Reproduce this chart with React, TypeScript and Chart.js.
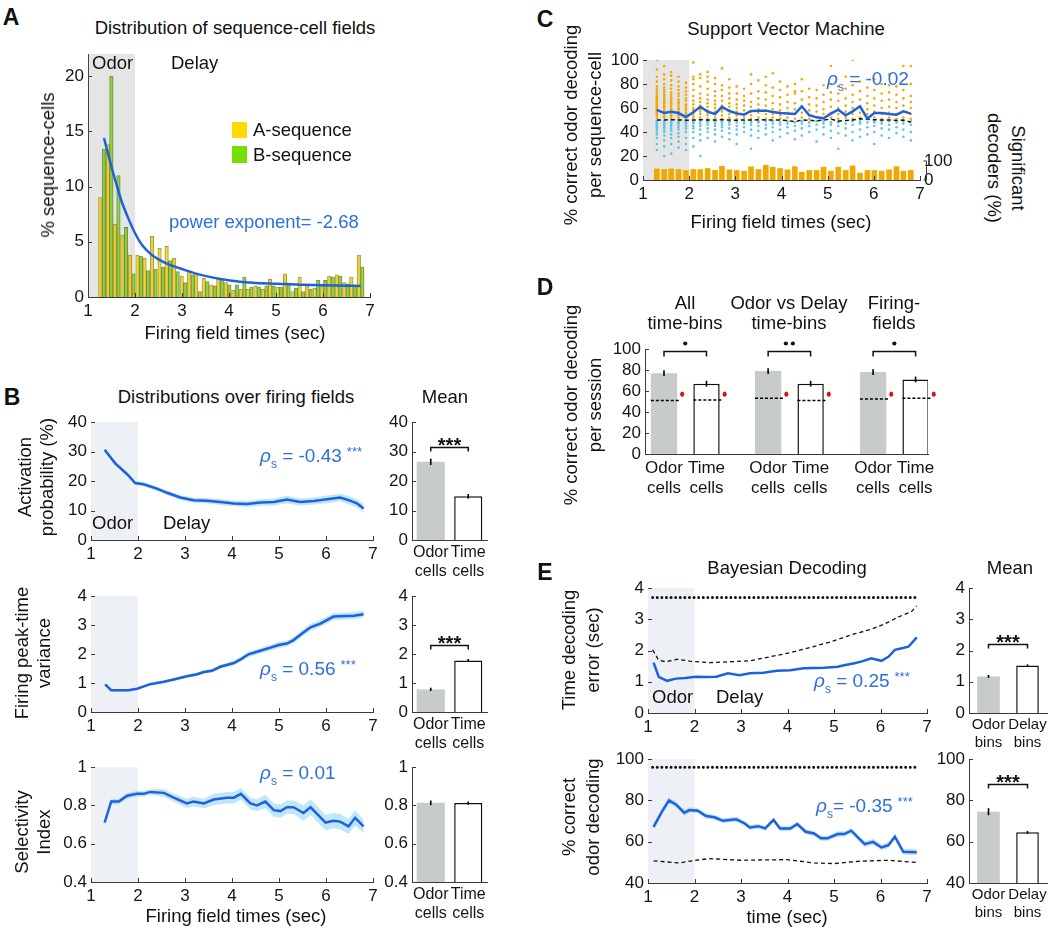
import React, { useEffect, useRef } from 'react';
import { Chart, registerables } from 'chart.js';

Chart.register(...registerables);

const FONT = "'Liberation Sans', Arial, Helvetica, sans-serif";
Chart.defaults.font.family = FONT;
Chart.defaults.font.size = 17;
Chart.defaults.color = '#151515';

const BLUE = '#1d62dc';
const RHO = '#2d6fdd';
const BAND = 'rgba(130,205,245,0.5)';
const SHADE_A = '#e5e5e5';
const SHADE_B = '#edf1f5';
const GREYBAR = '#c8cbcb';
const ORANGE = '#f0a900';
const CYAN = '#5ec5e8';
const AXIS = '#3a3a3a';

// ================= DATA =================
const xTicks = [1, 2, 3, 4, 5, 6, 7];

// ---- Panel A: histogram of firing-field times ----
const binTimes = [1.30, 1.46, 1.61, 1.77, 1.93, 2.09, 2.24, 2.40, 2.56, 2.71, 2.87, 3.03, 3.19, 3.34, 3.50, 3.66, 3.81, 3.97, 4.13, 4.29, 4.44, 4.60, 4.76, 4.91, 5.07, 5.23, 5.39, 5.54, 5.70, 5.86, 6.01, 6.17, 6.33, 6.49, 6.64, 6.80];
const histA = [9.0, 13.8, 6.6, 5.6, 3.8, 3.8, 3.5, 5.5, 4.4, 4.6, 3.5, 1.9, 2.3, 2.1, 1.7, 1.1, 1.6, 1.3, 0.6, 0.7, 0.7, 1.0, 0.7, 1.6, 0.9, 2.1, 0.5, 1.8, 1.0, 0.8, 1.0, 1.9, 2.0, 1.3, 1.8, 3.8];
const histB = [13.4, 20.0, 11.0, 6.3, 2.1, 3.7, 2.4, 2.5, 2.7, 3.3, 2.3, 1.3, 2.0, 0.5, 1.4, 1.0, 1.5, 1.1, 1.1, 1.8, 0.9, 0.9, 1.0, 1.0, 0.9, 1.1, 0.8, 0.5, 0.7, 1.5, 1.5, 1.8, 1.9, 1.2, 1.1, 2.7];
const fitT = [1.34, 1.45, 1.55, 1.62, 1.72, 1.84, 2.01, 2.15, 2.33, 2.50, 2.69, 3.02, 3.40, 4.02, 4.50, 5.03, 5.60, 6.23, 6.80];
const fitV = [14.4, 12.6, 11.0, 10.0, 8.6, 7.3, 5.7, 4.7, 3.9, 3.4, 3.0, 2.5, 2.0, 1.5, 1.3, 1.2, 1.1, 1.05, 1.0];
const aYTicks = [0, 5, 10, 15, 20];

// ---- Panel B ----
const bActT = [1.29, 1.52, 1.77, 1.94, 2.12, 2.40, 2.62, 2.90, 3.18, 3.47, 3.75, 4.04, 4.32, 4.60, 4.89, 5.17, 5.45, 5.74, 6.02, 6.30, 6.48, 6.66, 6.80];
const bAct = [30.6, 25.9, 22.3, 19.3, 18.9, 17.4, 16.0, 14.4, 13.5, 13.3, 12.9, 12.4, 12.2, 12.7, 12.9, 13.7, 12.9, 13.2, 13.8, 14.4, 13.5, 12.4, 10.7];
const bActSem = [0.6, 0.6, 0.6, 0.6, 0.7, 0.7, 0.8, 0.8, 0.9, 0.9, 1.0, 1.0, 1.0, 1.1, 1.2, 1.3, 1.2, 1.2, 1.3, 1.3, 1.4, 1.4, 1.5];
const bVarT = [1.30, 1.43, 1.62, 1.80, 1.98, 2.26, 2.55, 2.76, 3.04, 3.26, 3.40, 3.57, 3.75, 4.04, 4.21, 4.35, 4.60, 4.82, 4.99, 5.17, 5.31, 5.49, 5.67, 5.88, 6.16, 6.45, 6.59, 6.80];
const bVar = [0.95, 0.75, 0.75, 0.75, 0.80, 0.96, 1.04, 1.12, 1.23, 1.30, 1.38, 1.42, 1.56, 1.69, 1.84, 1.99, 2.11, 2.22, 2.31, 2.36, 2.48, 2.71, 2.92, 3.05, 3.29, 3.31, 3.32, 3.37];
const bVarSem = [0.04, 0.04, 0.04, 0.04, 0.04, 0.05, 0.05, 0.05, 0.06, 0.06, 0.06, 0.07, 0.07, 0.08, 0.08, 0.09, 0.09, 0.1, 0.1, 0.1, 0.11, 0.11, 0.12, 0.12, 0.12, 0.12, 0.12, 0.12];
const bSelT = [1.29, 1.43, 1.59, 1.77, 1.98, 2.12, 2.26, 2.55, 2.76, 3.04, 3.18, 3.40, 3.61, 3.89, 4.04, 4.19, 4.39, 4.53, 4.71, 4.89, 5.03, 5.17, 5.31, 5.52, 5.67, 5.81, 5.99, 6.16, 6.30, 6.48, 6.62, 6.80];
const bSel = [0.71, 0.82, 0.82, 0.85, 0.86, 0.86, 0.87, 0.865, 0.84, 0.81, 0.82, 0.81, 0.83, 0.84, 0.84, 0.86, 0.81, 0.80, 0.82, 0.775, 0.77, 0.79, 0.79, 0.76, 0.79, 0.755, 0.71, 0.72, 0.715, 0.69, 0.735, 0.69];
const bSelSem = [0.015, 0.015, 0.015, 0.015, 0.015, 0.015, 0.015, 0.02, 0.02, 0.025, 0.025, 0.025, 0.03, 0.03, 0.03, 0.03, 0.03, 0.03, 0.035, 0.035, 0.035, 0.035, 0.035, 0.04, 0.04, 0.04, 0.04, 0.04, 0.04, 0.04, 0.04, 0.035];
const bCellLabels = [['Odor', 'cells'], ['Time', 'cells']];
const bMeanAct = [26.5, 14.8];
const bMeanActErr = [0.8, 0.5];
const bMeanVar = [0.78, 1.78];
const bMeanVarErr = [0.03, 0.02];
const bMeanSel = [0.813, 0.812];
const bMeanSelErr = [0.008, 0.004];
const bActTicks = [0, 10, 20, 30, 40];
const bVarTicks = [0, 1, 2, 3, 4];
const bSelTicks = [0.4, 0.6, 0.8, 1];
const bSigY = [31.5, 2.3];

// ---- Panel C: SVM decoding per sequence cell ----
const cMean = [58.5, 55.8, 56.9, 55.8, 52.5, 56.5, 61.0, 57.0, 55.0, 61.0, 57.5, 55.5, 54.4, 57.5, 57.8, 57.8, 56.7, 55.8, 55.5, 55.0, 61.4, 54.0, 52.2, 51.5, 55.3, 58.6, 53.9, 57.2, 61.4, 51.1, 55.8, 55.8, 55.0, 54.4, 57.2, 55.3];
const cChance = [50, 50, 50.3, 50, 49.8, 50, 50.2, 50, 50, 50.3, 50, 49.8, 50, 50, 50.2, 50, 50, 50, 49.6, 48.5, 50, 49.8, 49.2, 50, 50.8, 49, 49.6, 50, 51, 50.6, 50.2, 50, 50, 49.6, 50, 48.2];
const cSig = [60, 57, 60, 57, 52, 57, 57, 62, 52, 74, 55, 52, 48, 71, 57, 79, 69, 62, 55, 72, 43, 52, 52, 69, 48, 69, 52, 76, 38, 52, 52, 48, 55, 72, 48, 52];
const cStars = [1.30, 1.46, 1.61, 1.77, 2.09, 2.24, 2.40, 2.56, 2.71, 2.87, 3.50, 3.66, 3.81, 3.97, 4.29, 4.44, 5.07, 5.39, 5.70, 6.64, 6.80];
const cStarLevel = 106;
const cOrange = [
  [52, 54, 55, 56, 57, 58, 59, 60, 61, 62, 63, 64, 65, 66, 67, 68, 69, 70, 72, 74, 76, 78, 82, 86, 92, 100],
  [52, 53, 55, 57, 58, 60, 61, 62, 64, 65, 66, 68, 70, 71, 73, 75, 77, 80, 84, 88, 95],
  [51, 53, 54, 56, 58, 59, 61, 63, 64, 66, 67, 69, 71, 73, 76, 79, 83, 87, 90],
  [51, 52, 54, 55, 57, 59, 60, 62, 64, 65, 67, 70, 72, 75, 78, 82, 86],
  [51, 53, 55, 56, 58, 60, 62, 63, 66, 68, 71, 74, 77, 81],
  [52, 54, 56, 58, 60, 63, 66, 70, 75, 80, 84, 86, 98],
  [52, 55, 57, 59, 62, 65, 68, 72, 78, 85, 88],
  [51, 54, 56, 58, 61, 64, 67, 71, 76, 82, 86, 90],
  [52, 55, 57, 60, 63, 66, 70, 74, 80, 85],
  [51, 54, 57, 59, 62, 66, 70, 75, 79, 93],
  [52, 55, 58, 61, 64, 68, 72, 77, 84],
  [51, 54, 57, 60, 63, 67, 72, 78],
  [52, 55, 58, 62, 66, 70, 76],
  [51, 54, 57, 61, 65, 72, 80, 88],
  [52, 56, 59, 63, 68, 74, 83],
  [51, 55, 58, 62, 67, 73, 79, 86],
  [52, 55, 59, 64, 70, 77, 89],
  [51, 54, 58, 63, 69, 75, 82],
  [52, 56, 60, 65, 71, 78],
  [51, 55, 59, 64, 72, 74, 80],
  [52, 56, 61, 67, 74, 84],
  [51, 54, 58, 63, 69, 76],
  [52, 57, 62, 68, 75],
  [51, 55, 59, 65, 71, 79],
  [52, 56, 61, 67, 73, 80, 95],
  [51, 55, 60, 66, 72, 78],
  [52, 57, 62, 68, 76, 86],
  [51, 55, 60, 65, 71, 79, 100],
  [52, 56, 61, 67, 74, 82],
  [51, 55, 59, 64, 70, 77],
  [52, 57, 62, 68, 75, 84],
  [51, 55, 60, 66, 72, 80],
  [52, 56, 61, 67, 73, 79, 88],
  [51, 55, 60, 65, 71, 78],
  [52, 57, 62, 68, 75, 95],
  [51, 55, 60, 65, 70, 80, 95],
];
const cCyan = [
  [25, 30, 35, 38, 40, 42, 43, 44, 45, 46, 47, 48, 49],
  [20, 28, 33, 37, 40, 42, 44, 45, 46, 47, 48, 49],
  [22, 30, 35, 38, 41, 43, 45, 46, 47, 48, 49],
  [27, 32, 36, 39, 42, 44, 46, 47, 48, 49],
  [25, 30, 35, 40, 43, 45, 47, 48, 49],
  [28, 35, 40, 43, 45, 47, 48, 49],
  [20, 33, 38, 42, 45, 47, 49],
  [35, 40, 43, 46, 48, 49],
  [32, 38, 42, 45, 47, 49],
  [36, 41, 44, 46, 48, 49],
  [34, 39, 43, 46, 48, 49],
  [30, 38, 42, 45, 48, 49],
  [40, 44, 47, 49],
  [26, 37, 42, 46, 48, 49],
  [35, 41, 45, 48, 49],
  [38, 43, 46, 49],
  [33, 40, 44, 47, 49],
  [36, 42, 46, 48],
  [39, 44, 47, 49],
  [34, 41, 45, 48],
  [37, 43, 47, 49],
  [40, 45, 48],
  [32, 42, 46, 49],
  [38, 44, 47, 49],
  [35, 41, 46, 48],
  [26, 39, 45, 48, 49],
  [37, 43, 47],
  [33, 40, 46, 49],
  [36, 42, 47, 49],
  [38, 44, 48],
  [30, 40, 45, 48, 49],
  [37, 43, 47, 49],
  [35, 42, 46, 49],
  [39, 44, 48],
  [36, 42, 47, 49],
  [33, 40, 46, 49],
];
const cYTicks = [0, 20, 40, 60, 80, 100];
const cSigTicks = [0, 100];

// ---- Panel D: per-session decoding ----
const dVals = [77, 67, 79, 67, 78, 71];
const dErr = [2, 2, 2, 2, 2, 2];
const dChance = [51, 51.5, 53, 51, 52.5, 53];
const dShuffle = [57, 57, 57, 57, 57, 57];
const dLabels = [['Odor', 'cells'], ['Time', 'cells'], ['Odor', 'cells'], ['Time', 'cells'], ['Odor', 'cells'], ['Time', 'cells']];
const dSigN = [1, 2, 1];
const dSigY = 98.4;
const dYTicks = [0, 20, 40, 60, 80, 100];

// ---- Panel E: Bayesian decoding ----
const eErrT = [1.12, 1.23, 1.41, 1.60, 1.80, 2.03, 2.25, 2.47, 2.72, 2.97, 3.19, 3.48, 3.77, 4.06, 4.35, 4.57, 4.79, 5.08, 5.22, 5.44, 5.62, 5.80, 6.02, 6.17, 6.31, 6.46, 6.60, 6.78];
const eErr = [1.61, 1.16, 1.03, 1.10, 1.12, 1.16, 1.15, 1.16, 1.27, 1.21, 1.27, 1.29, 1.35, 1.37, 1.43, 1.44, 1.45, 1.48, 1.53, 1.59, 1.66, 1.75, 1.67, 1.80, 2.02, 2.07, 2.12, 2.42];
const eErrChT = [1.10, 1.23, 1.38, 1.63, 1.89, 2.32, 2.76, 3.19, 3.63, 4.06, 4.50, 4.93, 5.37, 5.80, 6.09, 6.38, 6.67, 6.78];
const eErrCh = [2.02, 1.69, 1.64, 1.72, 1.66, 1.61, 1.64, 1.67, 1.80, 1.93, 2.10, 2.28, 2.50, 2.68, 2.85, 3.07, 3.25, 3.43];
const eDotT = [1.1, 6.8];
const eErrDot = [3.7, 3.7];
const eCorT = [1.12, 1.30, 1.45, 1.60, 1.78, 1.89, 2.07, 2.25, 2.43, 2.61, 2.90, 3.08, 3.19, 3.37, 3.52, 3.70, 3.84, 4.06, 4.21, 4.39, 4.57, 4.72, 4.86, 5.08, 5.22, 5.37, 5.66, 5.84, 6.02, 6.17, 6.31, 6.49, 6.78];
const eCor = [67.2, 74.5, 80.0, 78.0, 74.0, 75.3, 75.0, 72.4, 71.8, 70.1, 70.8, 68.8, 66.9, 67.5, 66.4, 70.5, 66.4, 66.4, 68.5, 64.8, 64.0, 61.6, 61.6, 63.7, 63.7, 65.3, 58.8, 59.9, 57.2, 58.3, 62.4, 55.1, 54.9];
const eCorSem = [1.5, 1.5, 1.5, 1.4, 1.4, 1.3, 1.3, 1.3, 1.2, 1.2, 1.2, 1.2, 1.2, 1.2, 1.2, 1.2, 1.2, 1.2, 1.2, 1.2, 1.2, 1.3, 1.3, 1.3, 1.3, 1.3, 1.4, 1.4, 1.4, 1.4, 1.5, 1.5, 1.5];
const eCorChT = [1.12, 1.67, 2.03, 2.32, 2.97, 3.99, 4.57, 5.0, 5.51, 6.17, 6.78];
const eCorCh = [50.7, 49.7, 51.0, 51.8, 51.0, 51.3, 49.7, 49.4, 50.5, 51.0, 49.9];
const eCorDot = [96, 96];
const eBinLabels = [['Odor', 'bins'], ['Delay', 'bins']];
const eMeanErr = [1.17, 1.52];
const eMeanErrSe = [0.02, 0.01];
const eMeanCor = [74.5, 64.5];
const eMeanCorSe = [1.3, 0.3];
const eErrTicks = [0, 1, 2, 3, 4];
const eCorTicks = [40, 60, 80, 100];
const eSigY = [2.2, 88];

// ================= HELPERS =================
const pts = (xs: number[], ys: number[]) => xs.map((x, i) => ({ x, y: ys[i] }));

const decorPlugin = {
  id: 'decor',
  beforeDatasetsDraw(chart: any) {
    const o = chart.config.options.decor;
    if (!o || !o.shade) return;
    const { ctx, chartArea: ca } = chart;
    const x = chart.scales.x;
    const x0 = x.getPixelForValue(o.shade.from);
    const x1 = x.getPixelForValue(o.shade.to);
    ctx.save();
    ctx.fillStyle = o.shade.color;
    ctx.fillRect(x0, ca.top, x1 - x0, ca.bottom - ca.top);
    ctx.restore();
  },
  afterDatasetsDraw(chart: any) {
    const o = chart.config.options.decor;
    if (!o) return;
    const { ctx, chartArea: ca } = chart;
    const y = chart.scales.y;
    const bars = chart.getDatasetMeta(0).data;
    ctx.save();
    if (o.err) {
      ctx.strokeStyle = '#000';
      ctx.lineWidth = 1.6;
      bars.forEach((b: any, i: number) => {
        const v = o.err.v[i];
        const e = o.err.e[i];
        ctx.beginPath();
        ctx.moveTo(b.x, y.getPixelForValue(v - e) + 0.8);
        ctx.lineTo(b.x, y.getPixelForValue(v + e) - 0.8);
        ctx.stroke();
      });
    }
    if (o.chance) {
      bars.forEach((b: any, i: number) => {
        const yy = y.getPixelForValue(o.chance.v[i]);
        ctx.setLineDash([3, 2]);
        ctx.lineWidth = 1.5;
        ctx.strokeStyle = '#000';
        ctx.beginPath();
        ctx.moveTo(b.x - b.width / 2, yy);
        ctx.lineTo(b.x + b.width / 2 + 2, yy);
        ctx.stroke();
        ctx.setLineDash([]);
        ctx.fillStyle = '#e01010';
        ctx.beginPath();
        ctx.ellipse(b.x + b.width / 2 + 5, y.getPixelForValue(o.chance.dot[i]), 2, 2.6, 0, 0, Math.PI * 2);
        ctx.fill();
      });
    }
    if (o.brackets) {
      o.brackets.forEach((br: any) => {
        const b0 = bars[br.i0];
        const b1 = bars[br.i1];
        const yy = Math.round(y.getPixelForValue(br.y)) + 0.5;
        ctx.strokeStyle = '#111';
        ctx.lineWidth = 1.5;
        ctx.beginPath();
        ctx.moveTo(b0.x, yy + br.drop);
        ctx.lineTo(b0.x, yy);
        ctx.lineTo(b1.x, yy);
        ctx.lineTo(b1.x, yy + br.drop);
        ctx.stroke();
        const cx = (b0.x + b1.x) / 2;
        ctx.fillStyle = '#111';
        if (br.dots) {
          for (let k = 0; k < br.dots; k++) {
            ctx.beginPath();
            ctx.arc(cx + (k - (br.dots - 1) / 2) * 7, yy - 8, 2.1, 0, Math.PI * 2);
            ctx.fill();
          }
        } else {
          ctx.font = 'bold 20px ' + FONT;
          ctx.textAlign = 'center';
          ctx.textBaseline = 'alphabetic';
          ctx.fillText(br.text, cx, yy + 4.5);
        }
      });
    }
    if (o.rightBracket) {
      const s = chart.scales[o.rightBracket.axis];
      const xx = ca.right + 6.5;
      const y0 = s.getPixelForValue(o.rightBracket.lo);
      const y1 = s.getPixelForValue(o.rightBracket.hi);
      ctx.strokeStyle = AXIS;
      ctx.lineWidth = 1;
      ctx.beginPath();
      ctx.moveTo(xx - 3, y1);
      ctx.lineTo(xx, y1);
      ctx.lineTo(xx, y0);
      ctx.lineTo(xx - 3, y0);
      ctx.stroke();
    }
    ctx.restore();
  },
  afterDraw(chart: any) {
    const o = chart.config.options.decor;
    if (!o || !o.inTicks) return;
    const { ctx, chartArea: ca } = chart;
    ctx.save();
    ctx.strokeStyle = AXIS;
    ctx.lineWidth = 1;
    ctx.beginPath();
    if (o.inTicks.indexOf('x') >= 0) {
      const s = chart.scales.x;
      s.ticks.forEach((t: any) => {
        const p = Math.round(s.getPixelForValue(t.value)) + 0.5;
        ctx.moveTo(p, ca.bottom);
        ctx.lineTo(p, ca.bottom - 4);
      });
    }
    if (o.inTicks.indexOf('y') >= 0) {
      const s = chart.scales.y;
      s.ticks.forEach((t: any) => {
        const p = Math.round(s.getPixelForValue(t.value)) + 0.5;
        ctx.moveTo(ca.left, p);
        ctx.lineTo(ca.left + 4, p);
      });
    }
    ctx.stroke();
    ctx.restore();
  },
};
Chart.register(decorPlugin as any);

const zeroPad = (s: any) => {
  s.paddingLeft = 0;
  s.paddingRight = 0;
  s.paddingTop = 0;
  s.paddingBottom = 0;
};
const fixX = (h: number) => (s: any) => {
  s.height = h;
  zeroPad(s);
};
const fixY = (w: number) => (s: any) => {
  s.width = w;
  zeroPad(s);
};

function linAxis(min: number, max: number, vals: number[], fit: any, labels?: any[], size = 17) {
  return {
    type: 'linear',
    min,
    max,
    offset: false,
    grid: { display: false, drawTicks: false },
    border: { display: true, color: AXIS, width: 1 },
    afterBuildTicks: (s: any) => {
      s.ticks = vals.map((v) => ({ value: v }));
    },
    afterFit: fit,
    ticks: {
      padding: 4,
      font: { size },
      color: '#151515',
      autoSkip: false,
      maxRotation: 0,
      minRotation: 0,
      callback: (v: any, i: number) => (labels ? labels[i] : String(v)),
    },
  };
}

function catAxis(fit: any, size: number) {
  return {
    type: 'category',
    offset: true,
    grid: { display: false, drawTicks: false },
    border: { display: true, color: AXIS, width: 1 },
    afterFit: fit,
    ticks: { padding: 3, font: { size }, color: '#151515', autoSkip: false, maxRotation: 0, minRotation: 0 },
  };
}

type G = { yw: number; xh: number; top: number; right: number; rw: number };

function opts(g: G, scales: any, decor: any) {
  return {
    responsive: false,
    animation: false,
    events: [],
    layout: { padding: { left: 0, top: g.top, right: g.right - g.rw, bottom: 0 }, autoPadding: false },
    plugins: { legend: { display: false }, tooltip: { enabled: false } },
    scales,
    decor,
  };
}

type Rect = { l: number; t: number; r: number; b: number };

function ChartBox(props: { rect: Rect; make: (g: G) => any; yw?: number; xh?: number; top?: number; right?: number; rw?: number }) {
  const { rect, make } = props;
  const g: G = {
    yw: props.yw ?? 50,
    xh: props.xh ?? 50,
    top: props.top ?? 10,
    right: props.right ?? 10,
    rw: props.rw ?? 0,
  };
  const ref = useRef<HTMLCanvasElement>(null);
  const w = rect.r - rect.l + g.yw + g.right;
  const h = rect.b - rect.t + g.top + g.xh;
  useEffect(() => {
    const chart = new Chart(ref.current as HTMLCanvasElement, make(g));
    return () => chart.destroy();
  }, []);
  return (
    <canvas
      ref={ref}
      width={w}
      height={h}
      style={{ position: 'absolute', left: rect.l - g.yw, top: rect.t - g.top, width: w, height: h }}
    />
  );
}

// ---- chart builders ----
const makeA = (g: G) => ({
  type: 'bar',
  data: {
    datasets: [
      { type: 'line', data: pts(fitT, fitV), borderColor: BLUE, borderWidth: 2.5, pointRadius: 0, cubicInterpolationMode: 'monotone', order: 0 },
      { type: 'bar', data: pts(binTimes, histA), backgroundColor: 'rgba(240,208,20,0.85)', borderColor: 'rgba(110,100,30,0.7)', borderWidth: 0.8, barPercentage: 1, categoryPercentage: 1, order: 1 },
      { type: 'bar', data: pts(binTimes, histB), backgroundColor: 'rgba(125,205,30,0.8)', borderColor: 'rgba(70,100,20,0.7)', borderWidth: 0.8, barPercentage: 1, categoryPercentage: 1, order: 2 },
    ],
  },
  options: opts(g, { x: linAxis(1, 7, xTicks, fixX(g.xh)), y: linAxis(0, 22, aYTicks, fixY(g.yw)) }, { shade: { from: 1.02, to: 2, color: SHADE_A }, inTicks: 'xy' }),
});

const makeLine = (T: number[], V: number[], S: number[], ymin: number, ymax: number, yt: number[]) => (g: G) => ({
  type: 'line',
  data: {
    datasets: [
      { data: pts(T, V), borderColor: BLUE, borderWidth: 2.5, pointRadius: 0, order: 0 },
      { data: pts(T, V.map((v, i) => v - S[i])), borderColor: 'transparent', borderWidth: 0, pointRadius: 0, fill: false, order: 2 },
      { data: pts(T, V.map((v, i) => v + S[i])), borderColor: 'transparent', borderWidth: 0, pointRadius: 0, fill: '-1', backgroundColor: BAND, order: 1 },
    ],
  },
  options: opts(g, { x: linAxis(1, 7, xTicks, fixX(g.xh)), y: linAxis(ymin, ymax, yt, fixY(g.yw)) }, { shade: { from: 1, to: 2, color: SHADE_B }, inTicks: 'xy' }),
});

const makeMean = (labels: any[], vals: number[], errs: number[], ymin: number, ymax: number, yt: number[], sigY: number | null, bp: number, fs: number) => (g: G) => ({
  type: 'bar',
  data: {
    labels,
    datasets: [
      {
        data: vals,
        backgroundColor: [GREYBAR, '#ffffff'],
        borderColor: ['rgba(0,0,0,0)', '#111'],
        borderWidth: [0, 1.5],
        barPercentage: bp,
        categoryPercentage: 1,
      },
    ],
  },
  options: opts(g, { x: catAxis(fixX(g.xh), fs), y: linAxis(ymin, ymax, yt, fixY(g.yw)) }, {
    err: { v: vals, e: errs },
    brackets: sigY == null ? [] : [{ i0: 0, i1: 1, y: sigY, drop: 4, text: '***' }],
    inTicks: 'y',
  }),
});

const makeC = (g: G) => ({
  type: 'bar',
  data: {
    datasets: [
      { type: 'line', data: pts(binTimes, cMean), borderColor: BLUE, borderWidth: 2.5, pointRadius: 0, order: 0 },
      { type: 'line', data: cStars.map((t) => ({ x: t, y: cStarLevel })), showLine: false, pointRadius: 1.8, pointBackgroundColor: '#000', pointBorderColor: 'transparent', pointBorderWidth: 0, clip: false, order: 0 },
      { type: 'line', data: pts(binTimes, cChance), borderColor: '#111', borderWidth: 1.5, borderDash: [4, 3], pointRadius: 0, order: 1 },
      { type: 'line', data: cCyan.flatMap((col, i) => col.map((v) => ({ x: binTimes[i], y: v }))), showLine: false, pointRadius: 1.3, pointBackgroundColor: CYAN, pointBorderColor: 'transparent', pointBorderWidth: 0, order: 2 },
      { type: 'line', data: cOrange.flatMap((col, i) => col.map((v) => ({ x: binTimes[i], y: v }))), showLine: false, pointRadius: 1.3, pointBackgroundColor: ORANGE, pointBorderColor: 'transparent', pointBorderWidth: 0, order: 3 },
      { type: 'bar', yAxisID: 'y2', data: pts(binTimes, cSig), backgroundColor: ORANGE, barPercentage: 0.82, categoryPercentage: 1, order: 4 },
    ],
  },
  options: opts(
    g,
    {
      x: linAxis(1, 7, xTicks, fixX(g.xh)),
      y: linAxis(0, 100, cYTicks, fixY(g.yw)),
      y2: { ...linAxis(0, 630, cSigTicks, fixY(g.rw)), position: 'right', border: { display: false } },
    },
    { shade: { from: 1, to: 2, color: SHADE_A }, inTicks: 'xy', rightBracket: { axis: 'y2', lo: 0, hi: 100 } }
  ),
});

const makeD = (g: G) => {
  const slots = [1, 2, 3.45, 4.45, 5.92, 6.92];
  return {
    type: 'bar',
    data: {
      datasets: [
        {
          data: slots.map((x, i) => ({ x, y: dVals[i] })),
          backgroundColor: slots.map((_, i) => (i % 2 === 0 ? GREYBAR : '#ffffff')),
          borderColor: slots.map((_, i) => (i % 2 === 0 ? 'rgba(0,0,0,0)' : '#111')),
          borderWidth: slots.map((_, i) => (i % 2 === 0 ? 0 : 1.5)),
          barPercentage: 0.62,
          categoryPercentage: 1,
        },
      ],
    },
    options: opts(g, { x: linAxis(0.553, 7.212, slots, fixX(g.xh), dLabels), y: linAxis(0, 100, dYTicks, fixY(g.yw)) }, {
      err: { v: dVals, e: dErr },
      chance: { v: dChance, dot: dShuffle },
      brackets: dSigN.map((n, k) => ({ i0: 2 * k, i1: 2 * k + 1, y: dSigY, drop: 5, dots: n })),
      inTicks: 'y',
    }),
  };
};

const makeE = (T: number[], V: number[], S: number[] | null, chT: number[], chV: number[], dotV: number[], ymin: number, ymax: number, yt: number[]) => (g: G) => {
  const ds: any[] = [
    { data: pts(T, V), borderColor: BLUE, borderWidth: 2.5, pointRadius: 0, order: 0 },
    { data: pts(chT, chV), borderColor: '#111', borderWidth: 1.3, borderDash: [4, 3], pointRadius: 0, order: 1 },
    { data: pts(eDotT, dotV), borderColor: '#111', borderWidth: 3, borderDash: [0, 4.6], borderCapStyle: 'round', pointRadius: 0, order: 1 },
  ];
  if (S) {
    ds.push({ data: pts(T, V.map((v, i) => v - S[i])), borderColor: 'transparent', borderWidth: 0, pointRadius: 0, fill: false, order: 3 });
    ds.push({ data: pts(T, V.map((v, i) => v + S[i])), borderColor: 'transparent', borderWidth: 0, pointRadius: 0, fill: '-1', backgroundColor: BAND, order: 2 });
  }
  return {
    type: 'line',
    data: { datasets: ds },
    options: opts(g, { x: linAxis(1, 7, xTicks, fixX(g.xh)), y: linAxis(ymin, ymax, yt, fixY(g.yw)) }, { shade: { from: 1, to: 2, color: SHADE_B }, inTicks: 'xy' }),
  };
};

// ---- text helpers ----
function Txt(props: { x: number; y: number; children: any; size?: number; align?: 'center' | 'left'; rot?: number; color?: string; bold?: boolean; lh?: number }) {
  const { x, y, children, size = 18.5, align = 'center', rot = 0, color = '#111', bold = false, lh } = props;
  const tx = align === 'center' ? '-50%' : '0';
  return (
    <div
      style={{
        position: 'absolute',
        left: x,
        top: y,
        transform: `translate(${tx},-50%)${rot ? ` rotate(${rot}deg)` : ''}`,
        fontSize: size,
        fontWeight: bold ? 700 : 400,
        color,
        whiteSpace: 'nowrap',
        textAlign: 'center',
        lineHeight: lh ? `${lh}px` : 'normal',
      }}
    >
      {children}
    </div>
  );
}

function Rho(props: { x: number; y: number; text: string; stars?: boolean }) {
  return (
    <div style={{ position: 'absolute', left: props.x, top: props.y, transform: 'translateY(-50%)', color: RHO, fontSize: 19, whiteSpace: 'nowrap', lineHeight: '22px' }}>
      <span style={{ fontStyle: 'italic' }}>ρ</span>
      <span style={{ fontSize: 12, position: 'relative', top: 6 }}>s</span>
      {props.text}
      {props.stars ? <span style={{ fontSize: 13, position: 'relative', top: -6, marginLeft: 5 }}>***</span> : null}
    </div>
  );
}

export default function App() {
  return (
    <div style={{ position: 'absolute', left: 0, top: 0, width: 1050, height: 931, background: '#fff', overflow: 'hidden', fontFamily: FONT, color: '#111' }}>
      {/* Panel A */}
      <ChartBox rect={{ l: 88, t: 54, r: 370, b: 297 }} make={makeA} />
      {/* Panel B */}
      <ChartBox rect={{ l: 91, t: 422, r: 373, b: 540 }} make={makeLine(bActT, bAct, bActSem, 0, 40, bActTicks)} />
      <ChartBox rect={{ l: 91, t: 596, r: 373, b: 712 }} make={makeLine(bVarT, bVar, bVarSem, 0, 4, bVarTicks)} />
      <ChartBox rect={{ l: 91, t: 767, r: 373, b: 882 }} make={makeLine(bSelT, bSel, bSelSem, 0.4, 1, bSelTicks)} />
      <ChartBox rect={{ l: 412, t: 422, r: 487, b: 540 }} yw={40} right={12} make={makeMean(bCellLabels, bMeanAct, bMeanActErr, 0, 40, bActTicks, bSigY[0], 0.75, 16)} />
      <ChartBox rect={{ l: 412, t: 596, r: 487, b: 712 }} yw={40} right={12} make={makeMean(bCellLabels, bMeanVar, bMeanVarErr, 0, 4, bVarTicks, bSigY[1], 0.75, 16)} />
      <ChartBox rect={{ l: 412, t: 767, r: 487, b: 882 }} yw={40} right={12} make={makeMean(bCellLabels, bMeanSel, bMeanSelErr, 0.4, 1, bSelTicks, null, 0.75, 16)} />
      {/* Panel C */}
      <ChartBox rect={{ l: 643, t: 60, r: 920, b: 180 }} top={12} right={45} rw={45} make={makeC} />
      {/* Panel D */}
      <ChartBox rect={{ l: 645, t: 349, r: 928, b: 454 }} top={22} make={makeD} />
      {/* Panel E */}
      <ChartBox rect={{ l: 648, t: 588, r: 927, b: 713 }} make={makeE(eErrT, eErr, null, eErrChT, eErrCh, eErrDot, 0, 4, eErrTicks)} />
      <ChartBox rect={{ l: 648, t: 759, r: 927, b: 883 }} make={makeE(eCorT, eCor, eCorSem, eCorChT, eCorCh, eCorDot, 40, 100, eCorTicks)} />
      <ChartBox rect={{ l: 969, t: 588, r: 1047, b: 713 }} yw={44} right={3} make={makeMean(eBinLabels, eMeanErr, eMeanErrSe, 0, 4, eErrTicks, eSigY[0], 0.58, 15)} />
      <ChartBox rect={{ l: 969, t: 759, r: 1047, b: 883 }} yw={44} right={3} make={makeMean(eBinLabels, eMeanCor, eMeanCorSe, 40, 100, eCorTicks, eSigY[1], 0.58, 15)} />

      {/* ---- texts: panel A ---- */}
      <Txt x={11} y={17} size={23} bold>A</Txt>
      <Txt x={235} y={28}>Distribution of sequence-cell fields</Txt>
      <Txt x={92} y={63} align="left">Odor</Txt>
      <Txt x={171} y={63} align="left">Delay</Txt>
      <div style={{ position: 'absolute', left: 232, top: 122, width: 15, height: 16, background: '#ffd900' }} />
      <div style={{ position: 'absolute', left: 232, top: 146, width: 15, height: 17, background: '#74e000' }} />
      <Txt x={253} y={130} align="left">A-sequence</Txt>
      <Txt x={253} y={155} align="left">B-sequence</Txt>
      <Txt x={169} y={222} align="left" color={RHO}>power exponent= -2.68</Txt>
      <Txt x={48} y={165} rot={-90}>% sequence-cells</Txt>
      <Txt x={235} y={333}>Firing field times (sec)</Txt>

      {/* ---- panel B ---- */}
      <Txt x={12} y={397} size={23} bold>B</Txt>
      <Txt x={236} y={397}>Distributions over firing fields</Txt>
      <Txt x={445} y={397}>Mean</Txt>
      <Txt x={36} y={477} rot={-90} lh={22}>Activation<br />probability (%)</Txt>
      <Txt x={33} y={653} rot={-90} lh={22}>Firing peak-time<br />variance</Txt>
      <Txt x={33} y={832} rot={-90} lh={22}>Selectivity<br />Index</Txt>
      <Txt x={92} y={523} align="left">Odor</Txt>
      <Txt x={163} y={523} align="left">Delay</Txt>
      <Rho x={260} y={457} text=" = -0.43" stars />
      <Rho x={260} y={670} text=" = 0.56" stars />
      <Rho x={260} y={774} text=" = 0.01" />
      <Txt x={236} y={916}>Firing field times (sec)</Txt>

      {/* ---- panel C ---- */}
      <Txt x={545} y={19} size={23} bold>C</Txt>
      <Txt x={786} y={29}>Support Vector Machine</Txt>
      <Txt x={583} y={125} rot={-90} lh={24}>% correct odor decoding<br />per sequence-cell</Txt>
      <Txt x={1006} y={168} rot={90} lh={24}>Significant<br />decoders (%)</Txt>
      <Rho x={827} y={80} text=" = -0.02" />
      <Txt x={781} y={222}>Firing field times (sec)</Txt>

      {/* ---- panel D ---- */}
      <Txt x={545} y={287} size={23} bold>D</Txt>
      <Txt x={685} y={313} lh={20}>All<br />time-bins</Txt>
      <Txt x={789} y={313} lh={20}>Odor vs Delay<br />time-bins</Txt>
      <Txt x={894} y={313} lh={20}>Firing-<br />fields</Txt>
      <Txt x={583} y={405} rot={-90} lh={24}>% correct odor decoding<br />per session</Txt>

      {/* ---- panel E ---- */}
      <Txt x={545} y={572} size={23} bold>E</Txt>
      <Txt x={787} y={568}>Bayesian Decoding</Txt>
      <Txt x={1010} y={568}>Mean</Txt>
      <Txt x={581} y={650} rot={-90} lh={24}>Time decoding<br />error (sec)</Txt>
      <Txt x={581} y={817} rot={-90} lh={24}>% correct<br />odor decoding</Txt>
      <Txt x={652} y={697} align="left">Odor</Txt>
      <Txt x={716} y={697} align="left">Delay</Txt>
      <Rho x={814} y={682} text=" = 0.25" stars />
      <Rho x={816} y={807} text="= -0.35" stars />
      <Txt x={787} y={917}>time (sec)</Txt>
    </div>
  );
}
